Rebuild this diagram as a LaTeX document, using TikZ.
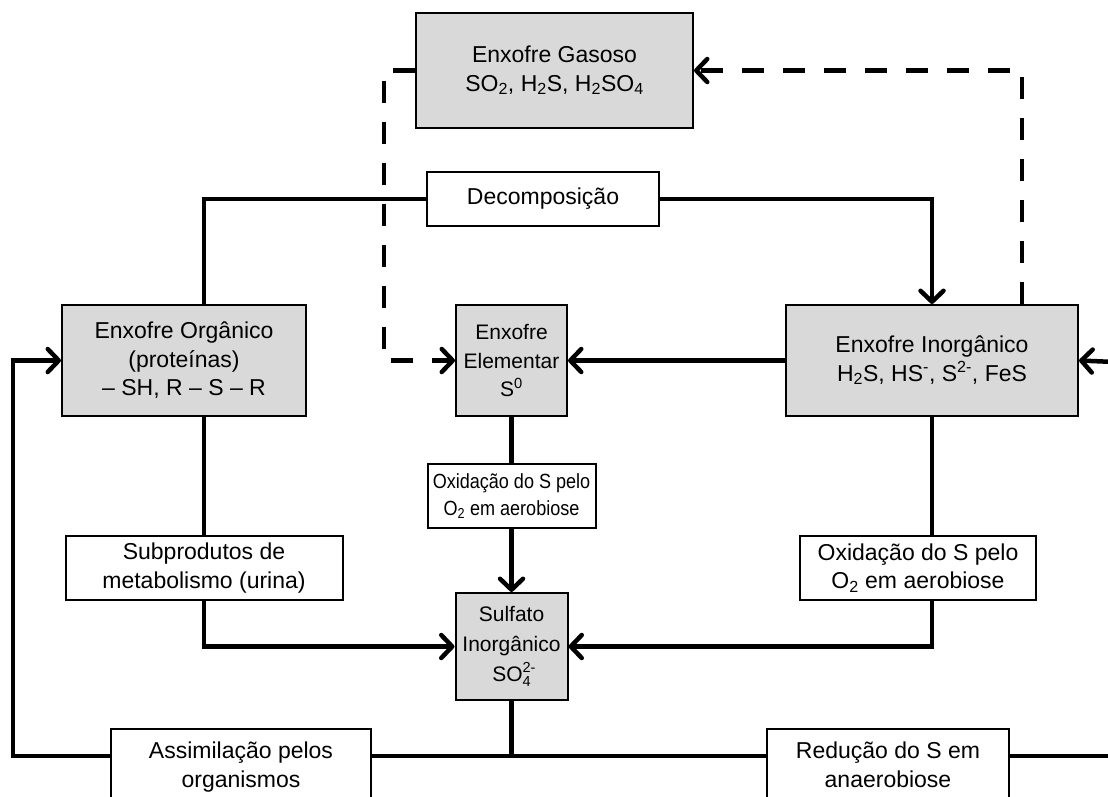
\documentclass[tikz,border=0pt]{standalone}
\usepackage{fontspec}
\setmainfont{Liberation Sans}
\usetikzlibrary{arrows.meta}
\definecolor{boxgray}{HTML}{D9D9D9}
\newcommand{\fsz}{\fontsize{23}{28.5}\selectfont}
\newcommand{\fsm}{\fontsize{21}{28.5}\selectfont}
\newcommand{\fss}{\fontsize{20.5}{27}\selectfont}
\newcommand{\narrowtxt}[1]{\scalebox{0.88}[1]{#1}}
\newcommand{\ionsupsub}[2]{\rlap{\raisebox{0.42em}{\fontsize{14.5}{15}\selectfont #1}}\raisebox{-0.24em}{\fontsize{14.5}{15}\selectfont #2}}
\begin{document}
\begin{tikzpicture}[x=1pt,y=-1pt,
  box/.style={draw=black, line width=2pt, fill=boxgray, align=center, inner sep=0pt, font=\fsz},
  lbl/.style={draw=black, line width=2pt, fill=white, align=center, inner sep=0pt, font=\fsz},
  flow/.style={line width=4.5pt},
  arr/.style={flow, -{Straight Barb[length=11pt,width=23pt,round]}},
  dflow/.style={line width=4.5pt, dash pattern=on 22pt off 19pt},
  darr/.style={dflow, -{Straight Barb[length=11pt,width=23pt,round]}},
]
\useasboundingbox (0,0) rectangle (1108,796);
\clip (0,0) rectangle (1108,796);

% main boxes
\node[box, minimum width=277pt, minimum height=115pt] (gas) at (554.5,70.5)
  {Enxofre Gasoso\\SO\textsubscript{2}, H\textsubscript{2}S, H\textsubscript{2}SO\textsubscript{4}};
\node[box, minimum width=244pt, minimum height=111pt] (org) at (184,360.5)
  {Enxofre Orgânico\\(proteínas)\\– SH, R – S – R};
\node[box, font=\fsm, minimum width=111pt, minimum height=111pt] (elem) at (511.5,360.5)
  {Enxofre\\Elementar\\S\textsuperscript{0}};
\node[box, minimum width=292pt, minimum height=111pt] (inorg) at (932,360.5)
  {Enxofre Inorgânico\\H\textsubscript{2}S, HS\textsuperscript{-}, S\textsuperscript{2-}, FeS};
\node[box, font=\fontsize{21}{30}\selectfont, minimum width=112pt, minimum height=107pt] (sulf) at (511.5,646.5)
  {Sulfato\\Inorgânico\\SO\ionsupsub{2-}{4}};

% label boxes
\node[lbl, minimum width=232pt, minimum height=54pt] (decomp) at (543,199) {Decomposição};
\node[lbl, font=\fss, minimum width=168pt, minimum height=64pt] (oxm) at (511.5,496)
  {\narrowtxt{Oxidação do S pelo}\\\narrowtxt{O\textsubscript{2} em aerobiose}};
\node[lbl, minimum width=236pt, minimum height=64pt] (oxr) at (918,568)
  {Oxidação do S pelo\\O\textsubscript{2} em aerobiose};
\node[lbl, minimum width=277pt, minimum height=64pt] (sub) at (204,568)
  {Subprodutos de\\metabolismo (urina)};
\node[lbl, minimum width=260pt, inner ysep=13pt, anchor=north] (assim) at (241,728)
  {Assimilação pelos\\organismos};
\node[lbl, minimum width=242pt, inner ysep=13pt, anchor=north] (red) at (888,728)
  {Redução do S em\\anaerobiose};

% helper coordinates
\coordinate (b) at (511.5,756);
\coordinate (bl) at (13,756);
\coordinate (br) at (1115,756);
\coordinate (ar) at (1115,362);
\coordinate (dlc) at (384,360.5);
\coordinate (drc) at (1022,70.5);
\coordinate (rx) at (932,0);

% decomposition
\draw[flow] (sub.north |- org.north) |- (decomp.west);
\draw[arr] (decomp.east) -| (inorg.north);

% organic -> sulfate
\draw[flow] (sub.north |- org.south) -- (sub.north);
\draw[arr] (sub.south) |- (sulf.west);

% elemental -> sulfate
\draw[flow] (elem.south) -- (oxm.north);
\draw[arr] (oxm.south) -- (sulf.north);

% inorganic -> sulfate
\draw[flow] (rx |- inorg.south) -- (rx |- oxr.north);
\draw[arr] (rx |- oxr.south) |- (sulf.east);

% inorganic -> elemental
\draw[arr] (inorg.west) -- (elem.east);

% bottom loop
\draw[flow] (sulf.south) -- (b);
\draw[flow] (b) -- (b -| assim.east);
\draw[arr] (b -| assim.west) -- (bl) |- (org.west);
\draw[flow] (b) -- (b -| red.west);
\draw[flow] (b -| red.east) -- (br);
\draw[arr] (ar) -- (inorg.east);

% dashed gas paths
\draw[darr] (gas.west) -| (dlc) -- (elem.west);
\draw[darr] (inorg.north -| drc) -- (drc) -- (gas.east);
\end{tikzpicture}
\end{document}
